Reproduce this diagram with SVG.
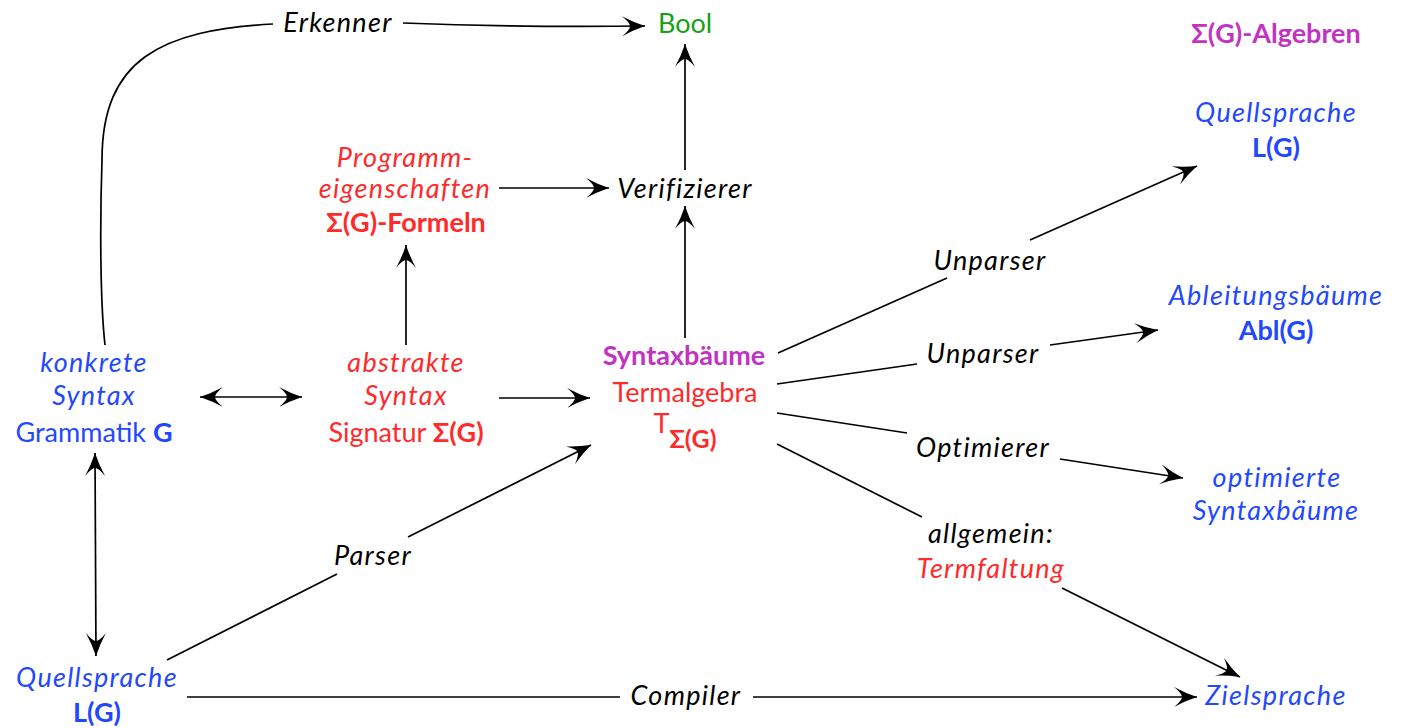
<svg xmlns="http://www.w3.org/2000/svg" width="1403" height="728" viewBox="0 0 1403 728">
  <style>
    text { font-family: Lato, "Open Sans", "Liberation Sans", sans-serif; font-size: 27px; text-anchor: middle; }
    .it { font-style: italic; letter-spacing: 1.3px; }
    .b { font-weight: bold; }
    .blue { fill: #1f48ff; }
    .red { fill: #ff2a2a; }
    .mag { fill: #c233c2; }
    .green { fill: #15a015; }
    .blk { fill: #000; }
    .edge { fill: none; stroke: #000; stroke-width: 1.7; }
    .head { marker-end: url(#arr); }
    .both { marker-start: url(#arr); marker-end: url(#arr); }
  </style>
  <defs>
    <marker id="arr" viewBox="-24 -12 26 24" refX="0" refY="0" markerWidth="26" markerHeight="24" markerUnits="userSpaceOnUse" orient="auto-start-reverse">
      <path d="M0,0 Q-12,-4 -23,-10 Q-15,-3.5 -15,0 Q-15,3.5 -23,10 Q-12,4 0,0 Z" fill="#000"/>
    </marker>
  </defs>

  <!-- connectors -->
  <g id="connectors">
    <!-- Erkenner: konkrete Syntax to Bool -->
    <path class="edge" d="M105,345 C100,300 100,220 102,160 C102,60 160,30 273,24"/>
    <path class="edge head" d="M403,23 C480,26 560,27 645,26"/>
    <!-- Verifizierer to Bool -->
    <path class="edge head" d="M685,170 L685,44"/>
    <!-- Programmeigenschaften to Verifizierer -->
    <path class="edge head" d="M499,188 L609,188"/>
    <!-- abstrakte Syntax to Programmeigenschaften -->
    <path class="edge head" d="M406,345 L406,245"/>
    <!-- Syntaxbaeume to Verifizierer -->
    <path class="edge head" d="M685,338 L685,206"/>
    <!-- konkrete <-> abstrakte Syntax -->
    <path class="edge both" d="M200,397 L302,397"/>
    <!-- abstrakte Syntax to Termalgebra -->
    <path class="edge head" d="M499,398 L590,398"/>
    <!-- Grammatik <-> Quellsprache -->
    <path class="edge both" d="M95,453 L96,656"/>
    <!-- Parser -->
    <path class="edge" d="M167,660 L337,574"/>
    <path class="edge head" d="M408,537 L591,445"/>
    <!-- Compiler -->
    <path class="edge" d="M187,697 L620,697"/>
    <path class="edge head" d="M753,697 L1197,697"/>
    <!-- Unparser to Quellsprache -->
    <path class="edge" d="M778,353 L947,278"/>
    <path class="edge head" d="M1030,240 L1197,166"/>
    <!-- Unparser to Ableitungsbaeume -->
    <path class="edge" d="M777,384 L917,364"/>
    <path class="edge head" d="M1050,345 L1158,330"/>
    <!-- Optimierer -->
    <path class="edge" d="M777,413 L907,433"/>
    <path class="edge head" d="M1060,459 L1183,478"/>
    <!-- Termfaltung -->
    <path class="edge" d="M777,444 L922,517"/>
    <path class="edge head" d="M1062,588 L1240,677"/>
  </g>

  <!-- edge labels -->
  <g id="labels">
    <text class="it blk" x="338" y="32">Erkenner</text>
    <text class="it blk" x="685" y="198">Verifizierer</text>
    <text class="it blk" x="373" y="565">Parser</text>
    <text class="it blk" x="686" y="705">Compiler</text>
    <text class="it blk" x="990" y="270">Unparser</text>
    <text class="it blk" x="983" y="363">Unparser</text>
    <text class="it blk" x="983" y="457">Optimierer</text>
    <text class="it blk" x="991" y="543">allgemein:</text>
    <text class="it red" x="991" y="578">Termfaltung</text>
  </g>

  <g id="bool">
    <text class="green" x="685" y="33">Bool</text>
  </g>

  <g id="algebren-title">
    <text class="b mag" x="1276" y="43">Σ(G)-Algebren</text>
  </g>

  <g id="programmeigenschaften">
    <text class="it red" x="405" y="167">Programm-</text>
    <text class="it red" x="405" y="198">eigenschaften</text>
    <text class="b red" x="406" y="232">Σ(G)-Formeln</text>
  </g>

  <g id="konkrete-syntax">
    <text class="it blue" x="94" y="372">konkrete</text>
    <text class="it blue" x="94" y="405">Syntax</text>
    <text class="blue" x="94" y="442">Grammatik <tspan class="b">G</tspan></text>
  </g>

  <g id="abstrakte-syntax">
    <text class="it red" x="406" y="372">abstrakte</text>
    <text class="it red" x="406" y="405">Syntax</text>
    <text class="red" x="406" y="442">Signatur <tspan class="b">Σ(G)</tspan></text>
  </g>

  <g id="termalgebra">
    <text class="b mag" x="684" y="365">Syntaxbäume</text>
    <text class="red" x="685" y="402">Termalgebra</text>
    <text class="red" x="685" y="433">T<tspan class="b" dy="15" font-size="25">Σ(G)</tspan></text>
  </g>

  <g id="quellsprache-links">
    <text class="it blue" x="97" y="687">Quellsprache</text>
    <text class="b blue" x="97" y="722">L(G)</text>
  </g>

  <g id="quellsprache-rechts">
    <text class="it blue" x="1276" y="122">Quellsprache</text>
    <text class="b blue" x="1276" y="157">L(G)</text>
  </g>

  <g id="ableitungsbaeume">
    <text class="it blue" x="1276" y="305">Ableitungsbäume</text>
    <text class="b blue" x="1276" y="340">Abl(G)</text>
  </g>

  <g id="optimierte-syntaxbaeume">
    <text class="it blue" x="1277" y="487">optimierte</text>
    <text class="it blue" x="1276" y="520">Syntaxbäume</text>
  </g>

  <g id="zielsprache">
    <text class="it blue" x="1276" y="705">Zielsprache</text>
  </g>
</svg>
